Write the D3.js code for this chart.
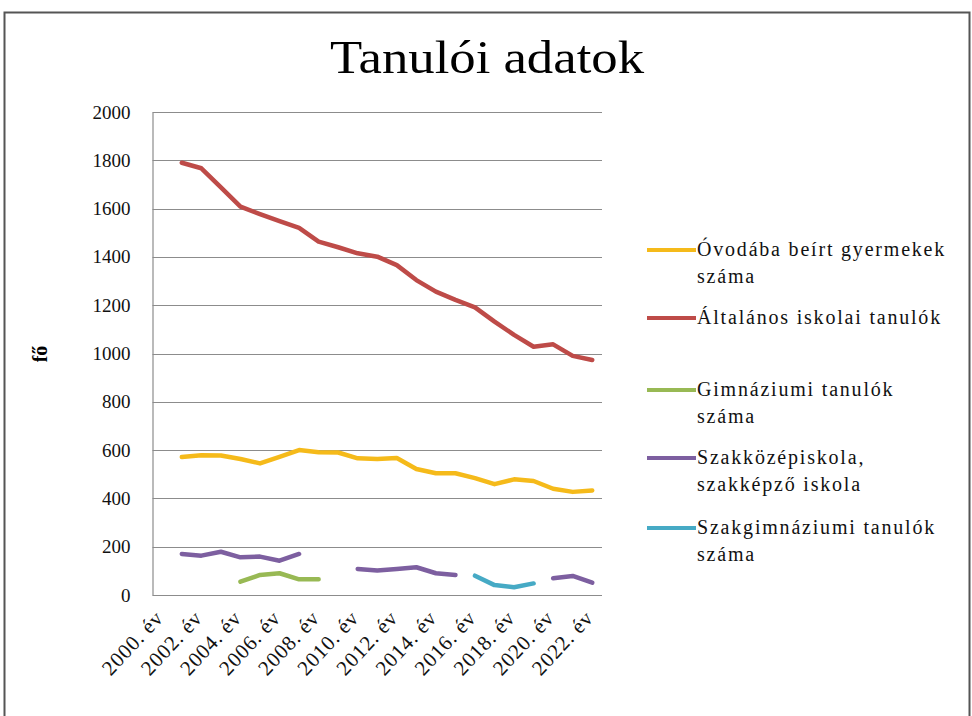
<!DOCTYPE html>
<html>
<head>
<meta charset="utf-8">
<script src="https://cdn.jsdelivr.net/npm/d3@7"></script>
<style>
  html, body { margin: 0; padding: 0; background: #fff; }
  svg { display: block; }
</style>
</head>
<body>
<svg id="chart" width="972" height="716" font-family="'Liberation Serif', 'DejaVu Serif', serif"></svg>
<script>
// Évek (kategóriák)
const years = ["2000. év","2001. év","2002. év","2003. év","2004. év","2005. év","2006. év","2007. év",
  "2008. év","2009. év","2010. év","2011. év","2012. év","2013. év","2014. év","2015. év",
  "2016. év","2017. év","2018. év","2019. év","2020. év","2021. év","2022. év"];

// Sorozatok (fő)
const ovoda = [null, 571, 579, 578, 563, 545, 572, 600, 591, 590, 566, 563, 567, 522, 504, 504, 484, 459, 479, 472, 440, 427, 433];
const altalanos = [null, 1790, 1767, 1688, 1608, 1577, 1548, 1520, 1463, 1440, 1415, 1401, 1366, 1304, 1256, 1222, 1191, 1132, 1077, 1028, 1038, 990, 973];
const gimnazium = [null, null, null, null, 55, 83, 90, 65, 65, null, null, null, null, null, null, null, null, null, null, null, null, null, null];
const szakkozep = [null, 170, 163, 179, 156, 159, 142, 170, null, null, 108, 101, 108, 115, 90, 83, null, null, null, null, 69, 79, 51];
const szakgimn = [null, null, null, null, null, null, null, null, null, null, null, null, null, null, null, null, 80, 41, 32, 48, null, null, null];

// Tengelyfeliratok
const yTicks = [0, 200, 400, 600, 800, 1000, 1200, 1400, 1600, 1800, 2000];
const xTickLabels = ["2000. év","2002. év","2004. év","2006. év","2008. év","2010. év",
  "2012. év","2014. év","2016. év","2018. év","2020. év","2022. év"];

const seriesNames = [
  ["Óvodába beírt gyermekek", "száma"],
  ["Általános iskolai tanulók"],
  ["Gimnáziumi tanulók", "száma"],
  ["Szakközépiskola,", "szakképző iskola"],
  ["Szakgimnáziumi tanulók", "száma"]
];
const seriesValues = [ovoda, altalanos, gimnazium, szakkozep, szakgimn];
const seriesColors = ["#F5BA1A", "#BE4B48", "#98B954", "#7D5FA0", "#46AAC5"];

const svg = d3.select("#chart");
const serif = "'Liberation Serif', 'DejaVu Serif', serif";

// Keret
svg.append("rect")
  .attr("x", 4.5).attr("y", 12.5).attr("width", 965).attr("height", 720)
  .attr("fill", "#fff").attr("stroke", "#555").attr("stroke-width", 2);

// Cím
svg.append("text")
  .attr("x", 487).attr("y", 73)
  .attr("text-anchor", "middle")
  .attr("font-family", serif)
  .attr("font-size", 46)
  .attr("textLength", 314)
  .attr("lengthAdjust", "spacingAndGlyphs")
  .attr("fill", "#000")
  .text("Tanulói adatok");

const plot = { left: 152.5, right: 602, top: 112, bottom: 595 };

const x = d3.scaleBand().domain(years).range([plot.left, plot.right]).padding(0);
const cx = d => x(d) + x.bandwidth() / 2;
const y = d3.scaleLinear().domain([0, 2000]).range([plot.bottom, plot.top]);

// Rácsvonalak
svg.append("g")
  .selectAll("line")
  .data(yTicks)
  .join("line")
  .attr("x1", plot.left).attr("x2", plot.right)
  .attr("y1", d => Math.round(y(d)) + 0.5).attr("y2", d => Math.round(y(d)) + 0.5)
  .attr("stroke", "#8c8c8c").attr("stroke-width", 1.2);

// Y tengely
const yAxis = svg.append("g")
  .attr("transform", `translate(${plot.left},0)`)
  .call(d3.axisLeft(y).tickValues(yTicks).tickSize(0).tickPadding(22).tickFormat(d3.format("d")));
yAxis.attr("font-family", serif);
yAxis.select(".domain").attr("stroke", "#8c8c8c").attr("stroke-width", 1.2);
yAxis.selectAll("text")
  .attr("font-size", 19).attr("fill", "#111");

// X tengely
const xAxis = svg.append("g")
  .attr("transform", `translate(0,${plot.bottom})`)
  .call(d3.axisBottom(x).tickValues(xTickLabels).tickSize(0).tickFormat(d => d));
xAxis.attr("font-family", serif);
xAxis.select(".domain").remove();
xAxis.selectAll("text")
  .attr("font-size", 21).attr("fill", "#111")
  .attr("letter-spacing", 0.8)
  .attr("text-anchor", "end")
  .attr("dy", 0)
  .attr("transform", "translate(0,22) rotate(-47)");

// Y tengelycím
svg.append("text")
  .attr("transform", "translate(47,354) rotate(-90)")
  .attr("text-anchor", "middle")
  .attr("font-family", serif)
  .attr("font-size", 20).attr("font-weight", "bold")
  .text("fő");

// Vonalak
const line = d3.line()
  .defined(d => d.v != null)
  .x(d => cx(d.year))
  .y(d => y(d.v));

seriesValues.forEach((vals, i) => {
  const data = years.map((yr, j) => ({ year: yr, v: vals[j] }));
  svg.append("path")
    .datum(data)
    .attr("fill", "none")
    .attr("stroke", seriesColors[i])
    .attr("stroke-width", 4.5)
    .attr("stroke-linejoin", "round")
    .attr("stroke-linecap", "round")
    .attr("d", line);
});

// Jelmagyarázat
const legendY = [250, 318, 390, 458, 528];
const legend = svg.append("g").attr("font-family", serif);
seriesNames.forEach((lines, i) => {
  const g = legend.append("g").attr("transform", `translate(647,${legendY[i]})`);
  g.append("line")
    .attr("x1", 0).attr("x2", 49).attr("y1", 0).attr("y2", 0)
    .attr("stroke", seriesColors[i]).attr("stroke-width", 4);
  lines.forEach((t, k) => {
    g.append("text")
      .attr("x", 50).attr("y", 6 + k * 27)
      .attr("font-size", 20)
      .attr("letter-spacing", 1.8)
      .attr("fill", "#111")
      .text(t);
  });
});
</script>
</body>
</html>
